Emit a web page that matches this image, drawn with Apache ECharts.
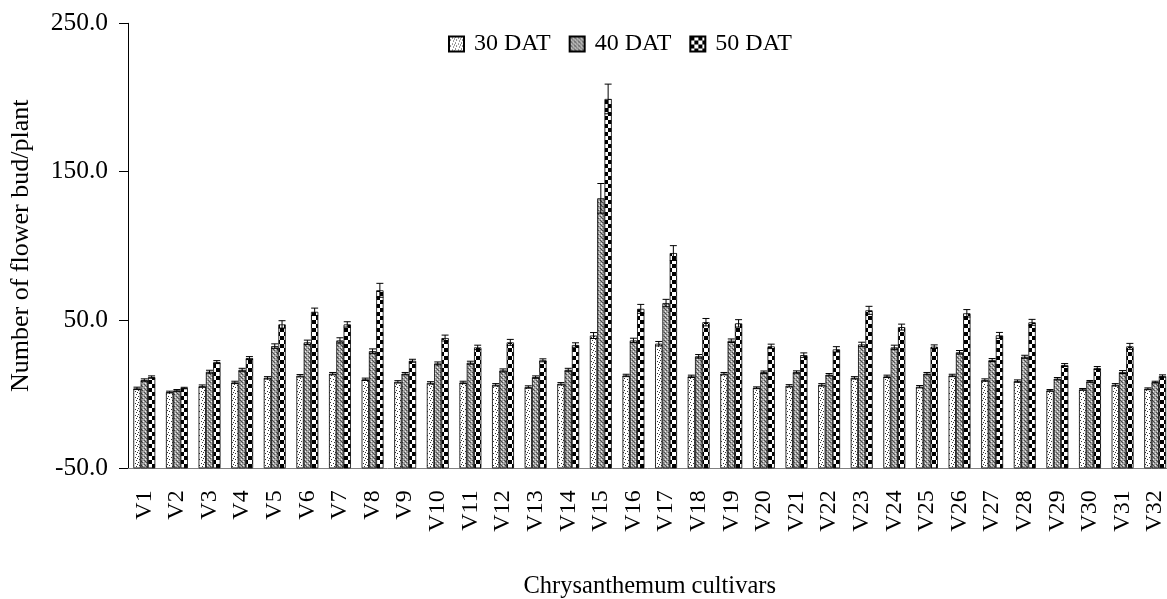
<!DOCTYPE html>
<html>
<head>
<meta charset="utf-8">
<script src="https://cdn.jsdelivr.net/npm/echarts@6/dist/echarts.min.js"></script>
<style>
  html, body { margin: 0; padding: 0; background: #fff; }
  #container { width: 1167px; height: 599px; }
</style>
</head>
<body>
<div id="container"></div>
<script>
// cultivars on the x axis
const cultivars = [];
for (let i = 1; i <= 32; i++) cultivars.push("V" + i);

const seriesNames = ["30 DAT", "40 DAT", "50 DAT"];

// mean number of flower buds per plant
const dat30 = [3.9, 1.4, 5.4, 7.9, 11.0, 12.4, 13.8, 10.0, 8.3, 7.6, 7.9, 6.3, 4.8, 7.0, 39.5, 12.6,
  34.0, 12.0, 13.8, 4.3, 5.6, 6.3, 11.0, 12.0, 5.0, 12.6, 9.5, 8.8, 2.5, 3.2, 6.3, 3.6];
const dat40 = [9.5, 2.5, 15.1, 16.4, 32.4, 34.9, 36.2, 29.0, 13.8, 20.7, 21.2, 16.0, 11.5, 16.4, 132.0, 36.2,
  61.4, 25.5, 36.0, 14.8, 14.9, 13.1, 33.5, 31.5, 13.8, 28.2, 23.0, 25.2, 10.4, 8.6, 14.9, 8.1];
const dat50 = [11.5, 4.1, 21.6, 24.3, 47.0, 55.5, 47.0, 70.0, 22.5, 37.8, 31.5, 34.9, 22.8, 33.1, 199.0, 57.5,
  95.1, 48.5, 47.7, 32.2, 26.3, 30.2, 56.5, 45.2, 32.0, 54.5, 39.6, 48.4, 19.6, 17.6, 32.2, 12.2];

// error bars (+/-)
const err30 = [0.8, 0.6, 0.8, 0.8, 0.8, 0.8, 0.8, 0.8, 0.8, 0.8, 0.8, 0.8, 0.8, 0.8, 2.0, 0.8,
  1.5, 0.8, 0.8, 0.6, 0.8, 0.8, 0.8, 0.8, 0.8, 0.8, 0.8, 0.8, 0.6, 0.6, 0.8, 0.6];
const err40 = [0.8, 0.6, 1.0, 1.0, 1.5, 1.5, 1.8, 1.5, 0.8, 1.0, 1.0, 1.0, 0.8, 1.0, 10.0, 1.5,
  2.5, 1.2, 1.2, 0.8, 0.8, 0.8, 1.5, 1.5, 0.8, 1.2, 1.0, 1.0, 0.8, 0.6, 1.0, 0.6];
const err50 = [0.8, 0.5, 1.0, 1.0, 2.5, 2.5, 1.8, 4.7, 1.0, 2.0, 1.5, 2.0, 1.0, 1.5, 10.0, 3.0,
  5.0, 2.5, 2.5, 1.5, 1.5, 1.8, 2.7, 2.0, 1.2, 2.5, 2.0, 2.0, 1.0, 1.0, 2.0, 0.8];

const yTicks = [-50, 50, 150, 250];

// bars in the original grow from the bottom of the axis (-50), so values are
// plotted relative to that floor and the tick labels are shifted back
const BASE = -50;
const FONT = "Liberation Serif";

function makePattern(kind) {
  const c = document.createElement("canvas");
  const ctx = c.getContext("2d");
  if (kind === 0) {
    c.width = 6; c.height = 6;
    ctx.fillStyle = "#fff"; ctx.fillRect(0, 0, 6, 6);
    ctx.fillStyle = "#333";
    [[0, 0], [3, 1], [1, 3], [4, 4], [5, 2]].forEach(p => ctx.fillRect(p[0], p[1], 1, 1));
  } else if (kind === 1) {
    c.width = 4; c.height = 4;
    ctx.fillStyle = "#a0a0a0"; ctx.fillRect(0, 0, 4, 4);
    ctx.fillStyle = "#4a4a4a";
    [[0, 0], [2, 2], [1, 1]].forEach(p => ctx.fillRect(p[0], p[1], 1, 1));
    ctx.fillStyle = "#eee";
    [[1, 3], [3, 1]].forEach(p => ctx.fillRect(p[0], p[1], 1, 1));
  } else {
    c.width = 8; c.height = 8;
    ctx.fillStyle = "#fff"; ctx.fillRect(0, 0, 8, 8);
    ctx.fillStyle = "#000";
    ctx.fillRect(0, 0, 4, 4);
    ctx.fillRect(4, 4, 4, 4);
  }
  return { image: c, repeat: "repeat" };
}

const values = [dat30, dat40, dat50];
const errors = [err30, err40, err50];
const BAR_FRAC = 0.224;

const barSeries = values.map((vals, s) => ({
  name: seriesNames[s],
  type: "bar",
  barWidth: (BAR_FRAC * 100) + "%",
  barGap: "0%",
  data: vals.map(v => v - BASE),
  itemStyle: { color: makePattern(s), borderColor: "#000", borderWidth: 0.8 },
  silent: true,
}));

const errData = [];
values.forEach((vals, s) => {
  vals.forEach((v, i) => errData.push([i, s, v, errors[s][i]]));
});

const errSeries = {
  type: "custom",
  silent: true,
  z: 5,
  data: errData,
  encode: { x: 0, y: 2 },
  renderItem: function (params, api) {
    const cat = api.value(0);
    const s = api.value(1);
    const v = api.value(2);
    const e = api.value(3);
    const band = api.size([1, 0])[0];
    const x = api.coord([cat, 0])[0] + (s - 1) * band * BAR_FRAC;
    const yTop = api.coord([cat, v + e - BASE])[1];
    const yBot = api.coord([cat, v - e - BASE])[1];
    const cap = 3.5;
    const style = { stroke: "#000", lineWidth: 1 };
    return {
      type: "group",
      children: [
        { type: "line", shape: { x1: x, y1: yTop, x2: x, y2: yBot }, style: style },
        { type: "line", shape: { x1: x - cap, y1: yTop, x2: x + cap, y2: yTop }, style: style },
        { type: "line", shape: { x1: x - cap, y1: yBot, x2: x + cap, y2: yBot }, style: style },
      ],
    };
  },
};

const myChart = echarts.init(document.getElementById("container"), null, { renderer: "canvas" });

myChart.setOption({
  animation: false,
  backgroundColor: "#fff",
  textStyle: { fontFamily: FONT, color: "#000" },
  grid: { left: 128, top: 23.3, width: 1043.5, height: 445, outerBoundsMode: "none", containLabel: false },
  legend: {
    data: seriesNames,
    icon: "rect",
    left: 443,
    top: 27,
    itemWidth: 15,
    itemHeight: 15,
    itemGap: 18,
    textStyle: { fontFamily: FONT, fontSize: 24, color: "#000", padding: [0, 0, 0, 5] },
  },
  xAxis: {
    type: "category",
    data: cultivars,
    name: "Chrysanthemum cultivars",
    nameLocation: "middle",
    nameGap: 106,
    nameTextStyle: { fontFamily: FONT, fontSize: 24.5, color: "#000" },
    axisLine: { lineStyle: { color: "#808080", width: 1 } },
    axisTick: { length: 8, lineStyle: { color: "#333" } },
    axisLabel: { interval: 0, rotate: 90, fontFamily: FONT, fontSize: 24, color: "#000", margin: 22 },
  },
  yAxis: {
    type: "value",
    min: 0,
    max: yTicks[yTicks.length - 1] - BASE,
    interval: yTicks[1] - yTicks[0],
    name: "Number of flower bud/plant",
    nameLocation: "middle",
    nameGap: 94,
    nameTextStyle: { fontFamily: FONT, fontSize: 26, color: "#000" },
    axisLine: { show: true, lineStyle: { color: "#000", width: 1 } },
    axisTick: { show: true, length: 9, lineStyle: { color: "#000" } },
    splitLine: { show: false },
    axisLabel: {
      fontFamily: FONT, fontSize: 25.5, color: "#000", margin: 20,
      formatter: v => (v + BASE).toFixed(1),
    },
  },
  series: [...barSeries, errSeries],
});

window.addEventListener("resize", myChart.resize);
</script>
</body>
</html>
